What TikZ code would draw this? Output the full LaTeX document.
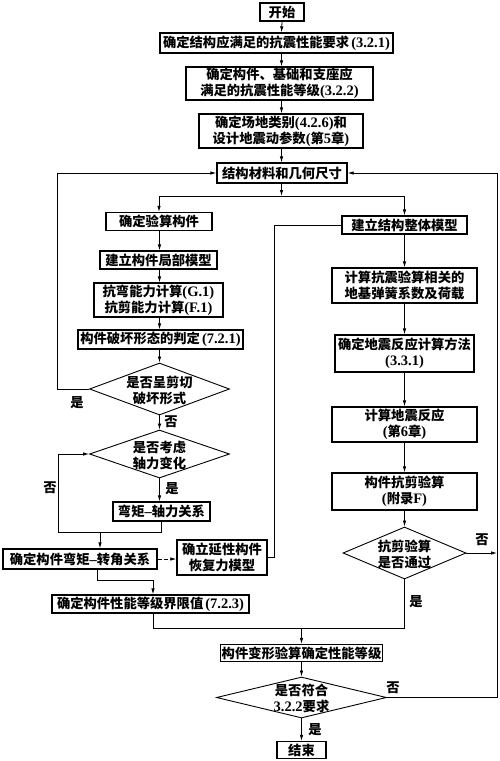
\documentclass[tikz,border=0pt]{standalone}
\usepackage{fontspec}
\setmainfont{Liberation Serif}
\newfontfamily\cjk{Noto Sans CJK SC}
\newfontfamily\lat{Liberation Serif}
\usetikzlibrary{arrows.meta,shapes.geometric}
\newcommand\cjkfont{\cjk\bfseries\fontsize{13.3}{16}\selectfont}
\newcommand\La[1]{{\lat\bfseries\fontsize{14.5}{16}\selectfont #1}}
\tikzset{
  box/.style={draw, line width=1.3pt, inner sep=1pt, align=center, font=\cjkfont},
  dia/.style={draw, diamond, line width=0.9pt, inner sep=0pt},
  lab/.style={font=\cjkfont, inner sep=0pt, align=center},
  conn/.style={line width=0.8pt},
  arr/.style={conn, -{Latex[length=6pt,width=3.5pt]}},
}
\begin{document}
\begin{tikzpicture}[x=1pt,y=-1pt]
\fill[white] (0,0) rectangle (500,761);
\useasboundingbox (0,0) rectangle (500,761);
% top column
\node[box, minimum width=44pt, minimum height=18pt] (start) at (282,12) {开始};
\node[box, minimum width=233pt, minimum height=20pt] (n1) at (276.5,43) {确定结构应满足的抗震性能要求\hspace{2pt}\La{(3.2.1)}};
\node[box, minimum width=187pt, minimum height=33pt] (n2) at (279.5,83.5) {确定构件、基础和支座应\\满足的抗震性能等级\La{(3.2.2)}};
\node[box, minimum width=164pt, minimum height=34pt] (n3) at (281,131) {确定场地类别\La{(4.2.6)}和\\设计地震动参数\La{(}第\La{5}章\La{)}};
\node[box, minimum width=130pt, minimum height=20pt] (n4) at (282,173) {结构材料和几何尺寸};
% left column
\node[box, minimum width=106pt, minimum height=18pt] (L1) at (159,221.5) {确定验算构件};
\node[box, minimum width=117pt, minimum height=18pt] (L2) at (158.5,260) {建立构件局部模型};
\node[box, minimum width=129pt, minimum height=34pt] (L3) at (158.5,300) {抗弯能力计算\La{(G.1)}\\抗剪能力计算\La{(F.1)}};
\node[box, minimum width=165pt, minimum height=19pt] (L4) at (160.5,339.5) {构件破坏形态的判定\hspace{2pt}\La{(7.2.1)}};
\node[dia, minimum width=140pt, minimum height=52pt] (d1) at (159.5,389) {};
\node[lab] (d1t) at (159.5,390) {是否呈剪切\\破坏形式};
\node[dia, minimum width=140pt, minimum height=48pt] (d2) at (159.5,454) {};
\node[lab] (d2t) at (159.5,455) {是否考虑\\轴力变化};
\node[box, minimum width=97pt, minimum height=19pt] (L5) at (161.5,511.5) {弯矩\La{–}轴力关系};
\node[box, minimum width=154pt, minimum height=20pt] (L6) at (80,559) {确定构件弯矩\La{–}转角关系};
\node[box, minimum width=90pt, minimum height=35pt] (L7) at (222,557.5) {确立延性构件\\恢复力模型};
\node[box, minimum width=197pt, minimum height=18pt] (L8) at (150.5,604) {确定构件性能等级界限值\hspace{2pt}\La{(7.2.3)}};
% right column
\node[box, minimum width=125pt, minimum height=18pt] (R1) at (404.5,225) {建立结构整体模型};
\node[box, minimum width=145pt, minimum height=35pt] (R2) at (404.5,285.5) {计算抗震验算相关的\\地基弹簧系数及荷载};
\node[box, minimum width=139pt, minimum height=37pt] (R3) at (404.5,353.5) {确定地震反应计算方法\\\La{(3.3.1)}};
\node[box, minimum width=145pt, minimum height=35pt] (R4) at (404.5,424.5) {计算地震反应\\\La{(}第\La{6}章\La{)}};
\node[box, minimum width=145pt, minimum height=37pt] (R5) at (404.5,491.5) {构件抗剪验算\\\La{(}附录\La{F)}};
\node[dia, minimum width=123pt, minimum height=52pt] (d3) at (404.5,553) {};
\node[lab] (d3t) at (404.5,554) {抗剪验算\\是否通过};
% bottom
\node[box, minimum width=160pt, minimum height=17pt] (B1) at (301.5,653) {构件变形验算确定性能等级};
\node[dia, minimum width=170pt, minimum height=41pt] (d4) at (301.5,697.5) {};
\node[lab] (d4t) at (301.5,698) {是否符合\\\La{3.2.2}要求};
\node[box, minimum width=49pt, minimum height=17pt] (end) at (301.5,750) {结束};
% labels
\node[lab] (t1) at (77,403) {是};
\node[lab] (t2) at (171,422) {否};
\node[lab] (t3) at (50,488) {否};
\node[lab] (t4) at (172,489) {是};
\node[lab] (t5) at (482,540) {否};
\node[lab] (t6) at (416,602) {是};
\node[lab] (t7) at (393,688) {否};
\node[lab] (t8) at (315,730) {是};
% coordinates
\coordinate (mx) at (281.5,0);
\coordinate (lx) at (159.5,0);
\coordinate (rx) at (404.5,0);
\coordinate (j1) at (281.5,196);
\coordinate (jl) at (159,196);
\coordinate (jr) at (404.5,196);
\coordinate (fl1) at (57,389);
\coordinate (fl2) at (57,173);
\coordinate (a1) at (161.5,532);
\coordinate (a2) at (58,532);
\coordinate (a3) at (58,454);
\coordinate (a4) at (100,532);
\coordinate (b1) at (274,557.5);
\coordinate (b2) at (274,225);
\coordinate (c1) at (97,580);
\coordinate (c2) at (153,580);
\coordinate (e1) at (153,628);
\coordinate (e2) at (404.5,628);
\coordinate (e3) at (301.5,628);
\coordinate (f1) at (497,553);
\coordinate (g1) at (497,697.5);
\coordinate (g2) at (497,173);
% connectors
\draw[arr] (start.south) -- (mx |- n1.north);
\draw[arr] (mx |- n1.south) -- (mx |- n2.north);
\draw[arr] (mx |- n2.south) -- (mx |- n3.north);
\draw[arr] (mx |- n3.south) -- (mx |- n4.north);
\draw[arr] (mx |- n4.south) -- (j1);
\draw[conn] (jl) -- (jr);
\draw[arr] (jl) -- (jl |- L1.north);
\draw[arr] (jr) -- (R1.north);
\draw[arr] (lx |- L1.south) -- (lx |- L2.north);
\draw[arr] (lx |- L2.south) -- (lx |- L3.north);
\draw[arr] (lx |- L3.south) -- (lx |- L4.north);
\draw[arr] (lx |- L4.south) -- (d1.north);
\draw[arr] (d1.west) -- (fl1) -- (fl2) -- (n4.west);
\draw[arr] (d1.south) -- (d2.north);
\draw[arr] (d2.south) -- (d2.south |- L5.north);
\draw[arr] (L5.south) -- (a1) -- (a2) -- (a3) -- (d2.west);
\draw[arr] (a4) -- (a4 |- L6.north);
\draw[arr, dash pattern=on 4pt off 2pt] (L6.east) -- (L6.east -| L7.west);
\draw[conn] (L7.east) -- (b1) -- (b2) -- (R1.west);
\draw[arr] (L6.south -| c1) -- (c1) -- (c2) -- (c2 |- L8.north);
\draw[conn] (L8.south -| e1) -- (e1) -- (e2);
\draw[arr] (e3) -- (B1.north);
\draw[arr] (rx |- R1.south) -- (rx |- R2.north);
\draw[arr] (rx |- R2.south) -- (rx |- R3.north);
\draw[arr] (rx |- R3.south) -- (rx |- R4.north);
\draw[arr] (rx |- R4.south) -- (rx |- R5.north);
\draw[arr] (rx |- R5.south) -- (d3.north);
\draw[conn] (d3.south) -- (e2);
\draw[arr] (d3.east) -- (f1);
\draw[arr] (d4.east) -- (g1) -- (g2) -- (n4.east);
\draw[arr] (B1.south) -- (d4.north);
\draw[arr] (d4.south) -- (end.north);
\end{tikzpicture}
\end{document}
